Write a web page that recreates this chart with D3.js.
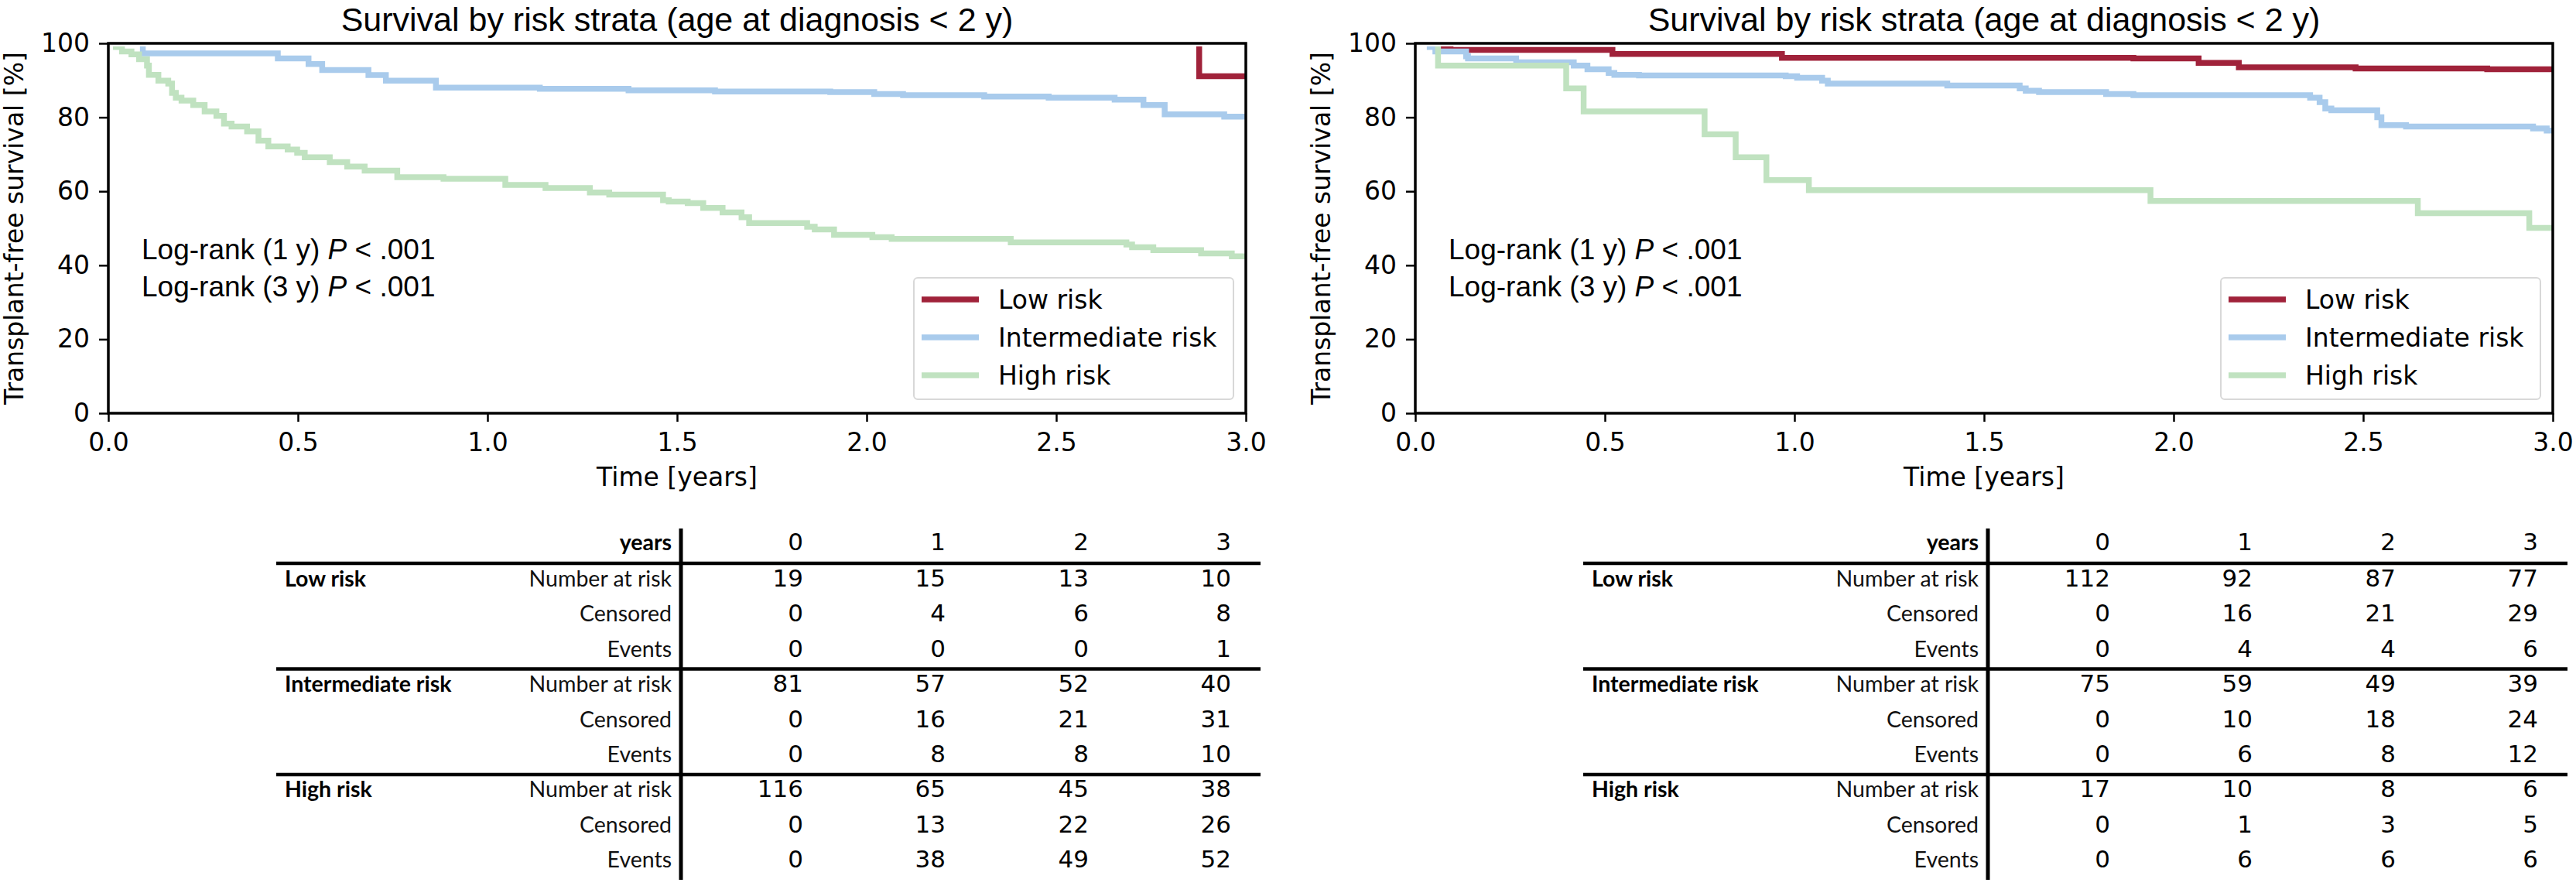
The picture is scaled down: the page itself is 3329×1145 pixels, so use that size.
<!DOCTYPE html>
<html>
<head>
<meta charset="utf-8">
<script src="https://cdn.jsdelivr.net/npm/d3@7"></script>
<style>
  body { margin: 0; background: #fff; }
  svg { display: block; }
</style>
</head>
<body>
<script>
// survival curves (time in years, survival in %)
var strata = ["Low risk", "Intermediate risk", "High risk"];
var colors = ["#a0223a", "#a9cbec", "#c0e2c0"];

// left panel
var leftLowT = [0, 2.877, 3.0];
var leftLowS = [100, 91.1, 91.1];
var leftIntT = [0, 0.091, 0.447, 0.528, 0.564, 0.686, 0.732, 0.864, 1.138, 1.372, 1.600, 1.904, 2.020, 2.096, 2.310, 2.480, 2.654, 2.730, 2.786, 2.943, 3.0];
var leftIntS = [100, 97.3, 95.9, 94.4, 92.8, 91.4, 89.9, 88.0, 87.7, 87.3, 87.0, 86.8, 86.3, 86.0, 85.6, 85.3, 84.8, 83.3, 80.8, 80.2, 80.2];
var leftHighT = [0, 0.020, 0.036, 0.061, 0.081, 0.102, 0.107, 0.132, 0.158, 0.168, 0.178, 0.193, 0.224, 0.254, 0.285, 0.305, 0.325, 0.366, 0.396, 0.422, 0.473, 0.498, 0.518, 0.584, 0.630, 0.676, 0.762, 0.884, 1.047, 1.153, 1.270, 1.321, 1.463, 1.478, 1.528, 1.569, 1.620, 1.670, 1.690, 1.843, 1.863, 1.914, 2.015, 2.066, 2.380, 2.685, 2.700, 2.756, 2.882, 2.963, 3.0];
var leftHighS = [100, 99.0, 97.8, 97.0, 95.7, 94.0, 91.5, 89.9, 89.1, 86.6, 85.3, 84.5, 83.3, 81.6, 80.4, 78.3, 77.5, 76.2, 73.7, 72.1, 71.3, 70.4, 69.2, 67.9, 66.7, 65.6, 63.8, 63.4, 61.7, 60.9, 59.7, 59.1, 57.6, 57.2, 56.8, 55.5, 54.3, 53.0, 51.4, 50.4, 49.7, 48.2, 47.6, 47.1, 46.2, 45.6, 44.9, 44.1, 43.2, 42.4, 42.4];

// right panel
var rightLowT = [0, 0.073, 0.093, 0.520, 0.967, 1.894, 2.066, 2.172, 2.480, 2.827, 3.0];
var rightLowS = [100, 98.6, 98.2, 97.1, 96.1, 95.9, 94.7, 93.5, 93.2, 93.0, 93.0];
var rightIntT = [0, 0.038, 0.053, 0.134, 0.139, 0.266, 0.418, 0.454, 0.510, 0.525, 0.590, 0.977, 1.007, 1.073, 1.088, 1.403, 1.594, 1.610, 1.645, 1.822, 1.894, 2.360, 2.385, 2.400, 2.416, 2.537, 2.548, 2.613, 2.948, 2.984, 3.0];
var rightIntS = [100, 99.0, 97.8, 96.5, 95.9, 94.9, 94.0, 93.0, 92.0, 91.5, 91.3, 91.1, 90.7, 89.9, 89.1, 88.6, 87.8, 87.2, 86.8, 86.3, 86.0, 85.3, 84.1, 82.4, 81.9, 80.0, 77.9, 77.5, 77.0, 76.4, 76.4];
var rightHighT = [0, 0.060, 0.398, 0.444, 0.763, 0.845, 0.926, 1.038, 1.939, 2.644, 2.938, 3.0];
var rightHighS = [100, 94.0, 87.8, 81.6, 75.4, 69.2, 63.0, 60.3, 57.4, 54.1, 50.1, 50.1];

// axis ticks
var xTicks = [0, 0.5, 1.0, 1.5, 2.0, 2.5, 3.0];
var yTicks = [0, 20, 40, 60, 80, 100];

// number-at-risk tables
var tableYears = [0, 1, 2, 3];
var rowLabels = ["Number at risk", "Censored", "Events"];
var leftLowRows = [[19, 15, 13, 10], [0, 4, 6, 8], [0, 0, 0, 1]];
var leftIntRows = [[81, 57, 52, 40], [0, 16, 21, 31], [0, 8, 8, 10]];
var leftHighRows = [[116, 65, 45, 38], [0, 13, 22, 26], [0, 38, 49, 52]];
var rightLowRows = [[112, 92, 87, 77], [0, 16, 21, 29], [0, 4, 4, 6]];
var rightIntRows = [[75, 59, 49, 39], [0, 10, 18, 24], [0, 6, 8, 12]];
var rightHighRows = [[17, 10, 8, 6], [0, 1, 3, 5], [0, 6, 6, 6]];

var titleText = "Survival by risk strata (age at diagnosis < 2 y)";

var svgWidth = 3329;
var svgHeight = 1145;

var svg = d3.select("body").append("svg")
    .attr("width", svgWidth)
    .attr("height", svgHeight);

var plotW = 1470, plotTop = 56, plotBottom = 534;

function zip(t, s) {
    return t.map(function (d, i) { return [d, s[i]]; });
}

function drawPanel(px, curves, tables, id) {
    var x = d3.scaleLinear().domain([0, 3]).range([px, px + plotW]);
    var y = d3.scaleLinear().domain([0, 100]).range([plotBottom, plotTop]);

    var g = svg.append("g");

    // curves at 100% sit under the top spine, so clip a bit below it
    svg.append("clipPath").attr("id", "clip" + id)
        .append("rect")
        .attr("x", px).attr("y", plotTop + 4)
        .attr("width", plotW).attr("height", plotBottom - plotTop - 4);

    // curves
    var line = d3.line()
        .x(function (d) { return x(d[0]); })
        .y(function (d) { return y(d[1]); })
        .curve(d3.curveStepAfter);

    g.append("g").attr("clip-path", "url(#clip" + id + ")")
        .selectAll("path")
        .data(curves)
        .enter()
        .append("path")
        .attr("d", function (d) { return line(d); })
        .attr("fill", "none")
        .attr("stroke", function (d, i) { return colors[i]; })
        .attr("stroke-width", 7.5);

    // axes
    var xAxis = d3.axisBottom(x).tickValues(xTicks).tickFormat(d3.format(".1f"))
        .tickSize(11).tickPadding(15);
    var yAxis = d3.axisLeft(y).tickValues(yTicks).tickSize(12).tickPadding(12);

    var xg = g.append("g").attr("transform", "translate(0," + plotBottom + ")").call(xAxis);
    var yg = g.append("g").attr("transform", "translate(" + px + ",0)").call(yAxis);
    [xg, yg].forEach(function (a) {
        a.select(".domain").remove();
        a.selectAll("line").attr("stroke", "#000").attr("stroke-width", 2.5);
        a.selectAll("text").attr("fill", "#000")
            .style("font-family", "DejaVu Sans").style("font-size", "33px");
    });

    // frame
    g.append("rect")
        .attr("x", px).attr("y", plotTop)
        .attr("width", plotW).attr("height", plotBottom - plotTop)
        .attr("fill", "none").attr("stroke", "#000").attr("stroke-width", 3.5);

    // title and labels
    g.append("text")
        .attr("x", px + plotW / 2).attr("y", 40)
        .attr("text-anchor", "middle")
        .style("font-family", "Liberation Sans").style("font-size", "43px")
        .text(titleText);

    g.append("text")
        .attr("x", px + plotW / 2).attr("y", 628)
        .attr("text-anchor", "middle")
        .style("font-family", "DejaVu Sans").style("font-size", "33px")
        .text("Time [years]");

    g.append("text")
        .attr("transform", "translate(" + (px - 110) + "," + ((plotTop + plotBottom) / 2) + ") rotate(-90)")
        .attr("text-anchor", "middle")
        .style("font-family", "DejaVu Sans").style("font-size", "33px")
        .text("Transplant-free survival [%]");

    // log-rank notes
    ["1 y", "3 y"].forEach(function (lab, i) {
        var t = g.append("text")
            .attr("x", px + 43).attr("y", 335 + i * 48)
            .style("font-family", "Liberation Sans").style("font-size", "37px");
        t.append("tspan").text("Log-rank (" + lab + ") ");
        t.append("tspan").style("font-style", "italic").text("P");
        t.append("tspan").text(" < .001");
    });

    // legend
    var lg = g.append("g").attr("transform", "translate(" + (px + 1041) + ",359)");
    lg.append("rect")
        .attr("width", 413).attr("height", 157).attr("rx", 5)
        .attr("fill", "#fff").attr("fill-opacity", 0.8)
        .attr("stroke", "#d8d8d8").attr("stroke-width", 2);
    strata.forEach(function (s, i) {
        lg.append("line")
            .attr("x1", 10).attr("x2", 84)
            .attr("y1", 28 + i * 49).attr("y2", 28 + i * 49)
            .attr("stroke", colors[i]).attr("stroke-width", 7.5);
        lg.append("text")
            .attr("x", 109).attr("y", 40 + i * 49)
            .style("font-family", "DejaVu Sans").style("font-size", "33px")
            .text(s);
    });

    // table under the plot
    var tx = px - 140;
    var cols = [1038, 1222, 1407, 1591];
    var tg = g.append("g");

    tg.append("text")
        .attr("x", tx + 868).attr("y", 711)
        .attr("text-anchor", "end")
        .style("font-family", "Lato").style("font-weight", "bold").style("font-size", "28.5px")
        .text("years");
    tableYears.forEach(function (v, j) {
        tg.append("text")
            .attr("x", tx + cols[j]).attr("y", 711)
            .attr("text-anchor", "end")
            .style("font-family", "DejaVu Sans").style("font-size", "31px")
            .text(v);
    });

    tables.forEach(function (rows, k) {
        tg.append("line")
            .attr("x1", tx + 357).attr("x2", tx + 1629)
            .attr("y1", 728 + k * 136.5).attr("y2", 728 + k * 136.5)
            .attr("stroke", "#000").attr("stroke-width", 4.5);
        tg.append("text")
            .attr("x", tx + 368).attr("y", 758 + k * 3 * 45.4)
            .style("font-family", "Lato").style("font-weight", "bold").style("font-size", "28.5px")
            .text(strata[k]);
        rows.forEach(function (vals, r) {
            var by = 758 + (k * 3 + r) * 45.4;
            tg.append("text")
                .attr("x", tx + 868).attr("y", by)
                .attr("text-anchor", "end")
                .attr("fill", "#111")
                .style("font-family", "Lato").style("font-size", "28.5px")
                .text(rowLabels[r]);
            vals.forEach(function (v, j) {
                tg.append("text")
                    .attr("x", tx + cols[j]).attr("y", by)
                    .attr("text-anchor", "end")
                    .style("font-family", "DejaVu Sans").style("font-size", "31px")
                    .text(v);
            });
        });
    });

    tg.append("line")
        .attr("x1", tx + 880).attr("x2", tx + 880)
        .attr("y1", 683).attr("y2", 1137)
        .attr("stroke", "#000").attr("stroke-width", 5);
}

drawPanel(140,
    [zip(leftLowT, leftLowS), zip(leftIntT, leftIntS), zip(leftHighT, leftHighS)],
    [leftLowRows, leftIntRows, leftHighRows], 0);
drawPanel(1829,
    [zip(rightLowT, rightLowS), zip(rightIntT, rightIntS), zip(rightHighT, rightHighS)],
    [rightLowRows, rightIntRows, rightHighRows], 1);
</script>
</body>
</html>
